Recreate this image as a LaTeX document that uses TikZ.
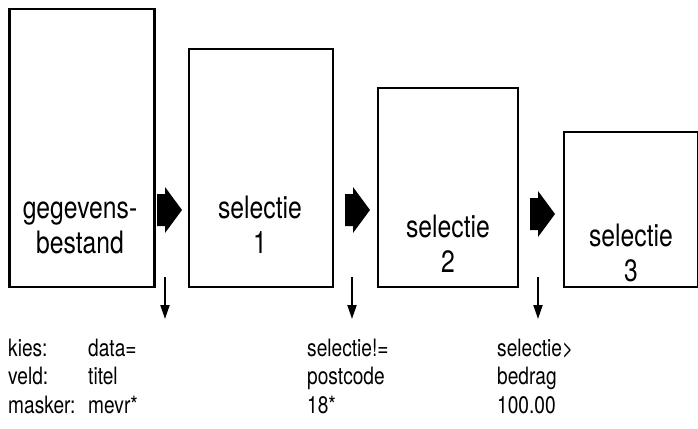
\documentclass[tikz,border=0pt]{standalone}
\usepackage{fontspec}
\setmainfont[FakeStretch=0.8]{TeX Gyre Heros}
\usepackage{tikz}
\usetikzlibrary{positioning,arrows.meta}

\tikzset{
	file/.style={draw,
		line width=2bp,
		anchor=south west,
		inner sep=0pt,
	},
	boxtext/.style={
		align=center,
		anchor=base,
		font=\fontsize{31}{35}\selectfont,
	},
	argtext/.style={
		align=left,
		anchor=base west,
		inner sep=0pt,
		font=\fontsize{24}{28.5}\selectfont,
	},
	blockarrow/.pic={
		\fill (-12.5,-16) -- (-4.5,-16) -- (-4.5,-23) -- (12.5,0)
			-- (-4.5,23) -- (-4.5,16) -- (-12.5,16) -- cycle;
	},
	pick/.style={-{Triangle[length=14bp,width=9bp]}, line width=2bp},
}

\begin{document}
\begin{tikzpicture}[x=1bp,y=-1bp]
\useasboundingbox (0,0) rectangle (698,428);

% Data file
\node [file,
	line width=2.5bp,
	minimum width=145bp,
	minimum height=278bp,
] (gegevens) at (8,288) {};
\node [boxtext] (gegevens_text) at (80,253) {gegevens-\\bestand};

% Selection 1
\node [file,
	minimum width=144bp,
	minimum height=238bp,
] (selectie_een) at (188,288) {};
\node [boxtext] (selectie_een_text) at (260,253) {selectie\\1};

% Selection 2
\node [file,
	minimum width=140bp,
	minimum height=199bp,
] (selectie_twee) at (377,288) {};
\node [boxtext] (selectie_twee_text) at (448,272) {selectie\\2};

% Selection 3
\node [file,
	minimum width=134bp,
	minimum height=155bp,
] (selectie_drie) at (563,288) {};
\node [boxtext] (selectie_drie_text) at (631,281) {selectie\\3};

% Big arrows between the files
\pic at (169.5,210) {blockarrow};
\pic at (357.5,210) {blockarrow};
\pic at (542.5,214) {blockarrow};

% Selection criteria
\node [argtext] (labels) at (8,413) {kies:\\veld:\\masker:};
\node [argtext] (args_een) at (88,413) {data=\\titel\\mevr*};
\node [argtext] (args_twee) at (307,413) {selectie!=\\postcode\\18*};
\node [argtext] (args_drie) at (497,413) {selectie>\\bedrag\\100.00};

% Small arrows down to the criteria
\coordinate (pick_een_top) at (165,277);
\coordinate (pick_een_end) at (165,319);
\coordinate (pick_twee_top) at (352,277);
\coordinate (pick_twee_end) at (352,319);
\coordinate (pick_drie_top) at (538,277);
\coordinate (pick_drie_end) at (538,319);

\draw[pick] (pick_een_top) -- (pick_een_end);
\draw[pick] (pick_twee_top) -- (pick_twee_end);
\draw[pick] (pick_drie_top) -- (pick_drie_end);

\end{tikzpicture}
\end{document}
